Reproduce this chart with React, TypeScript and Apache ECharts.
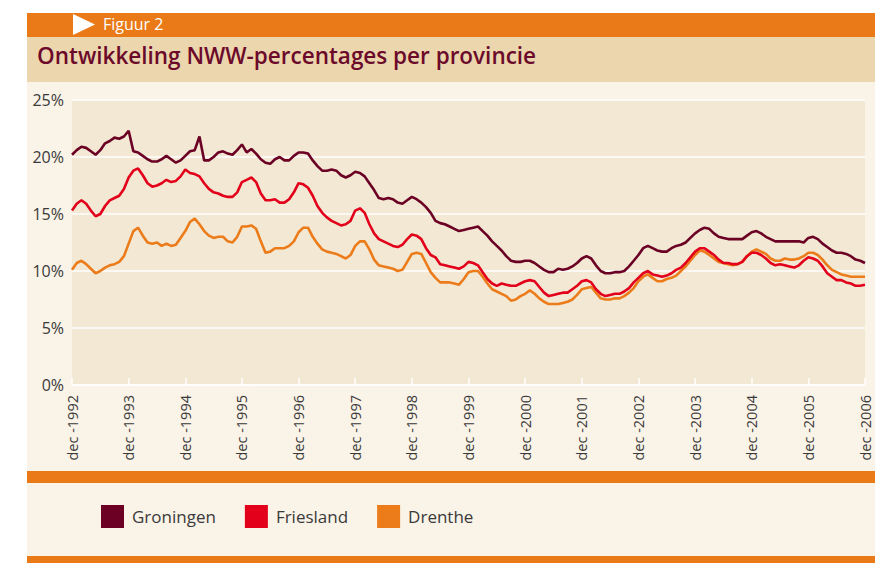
import React, { useEffect, useRef } from "react";
import * as echarts from "echarts";

const monthNames = ["jan", "feb", "mrt", "apr", "mei", "jun", "jul", "aug", "sep", "okt", "nov", "dec"];
const startYear = 1992;
const monthCount = 169; // dec-1992 .. dec-2006

const groningen = [
  20.2, 20.6, 20.9, 20.8, 20.5, 20.2, 20.6, 21.2, 21.4, 21.7, 21.6, 21.8, 22.3, 20.5, 20.4, 20.1, 19.8, 19.6, 19.6, 19.8, 20.1, 19.8, 19.5, 19.7, 20.1, 20.5, 20.6, 21.8, 19.7, 19.7, 20.0, 20.4, 20.5, 20.3, 20.2, 20.6, 21.1, 20.4, 20.7, 20.3, 19.8, 19.5,
  19.4, 19.8, 20.0, 19.7, 19.7, 20.1, 20.4, 20.4, 20.3, 19.7, 19.2, 18.8, 18.8, 18.9, 18.8, 18.4, 18.2, 18.4, 18.7, 18.6, 18.3, 17.7, 17.1, 16.4, 16.3, 16.4, 16.3, 16.0, 15.9, 16.2, 16.5, 16.3, 16.0, 15.6, 15.1, 14.4, 14.2, 14.1, 13.9, 13.7, 13.5, 13.6, 13.7,
  13.8, 13.9, 13.5, 13.1, 12.6, 12.2, 11.8, 11.3, 10.9, 10.8, 10.8, 10.9, 10.9, 10.7, 10.4, 10.1, 9.9, 9.9, 10.2, 10.1, 10.2, 10.4, 10.7, 11.1, 11.3, 11.1, 10.5, 10.0, 9.8, 9.8, 9.9, 9.9, 10.0, 10.4, 10.9, 11.4, 12.0, 12.2, 12.0, 11.8, 11.7, 11.7,
  12.0, 12.2, 12.3, 12.5, 12.9, 13.3, 13.6, 13.8, 13.7, 13.3, 13.0, 12.9, 12.8, 12.8, 12.8, 12.8, 13.1, 13.4, 13.5, 13.3, 13.0, 12.8, 12.6, 12.6, 12.6, 12.6, 12.6, 12.6, 12.5, 12.9, 13.0, 12.8, 12.4, 12.1, 11.8, 11.6, 11.6, 11.5, 11.3, 11.0, 10.9, 10.7,
];

const friesland = [
  15.3, 15.9, 16.2, 15.9, 15.3, 14.8, 15.0, 15.7, 16.2, 16.4, 16.6, 17.2, 18.2, 18.8, 19.0, 18.4, 17.7, 17.4, 17.5, 17.7, 18.0, 17.8, 17.9, 18.3, 18.9, 18.6, 18.5, 18.3, 17.7, 17.2, 16.9, 16.8, 16.6, 16.5, 16.5, 16.9, 17.8, 18.0, 18.2, 17.8, 16.8, 16.2,
  16.2, 16.3, 16.0, 16.0, 16.3, 16.9, 17.7, 17.6, 17.3, 16.6, 15.7, 15.1, 14.7, 14.4, 14.2, 14.0, 14.1, 14.4, 15.3, 15.5, 15.1, 14.1, 13.3, 12.8, 12.6, 12.4, 12.2, 12.1, 12.3, 12.8, 13.2, 13.1, 12.8, 12.0, 11.4, 11.2, 10.6, 10.5, 10.4, 10.3, 10.2, 10.4, 10.8,
  10.7, 10.5, 9.9, 9.3, 8.9, 8.7, 8.9, 8.8, 8.7, 8.7, 8.9, 9.1, 9.2, 9.1, 8.6, 8.1, 7.8, 7.9, 8.0, 8.1, 8.1, 8.4, 8.7, 9.1, 9.2, 9.0, 8.4, 8.0, 7.8, 7.9, 8.0, 8.0, 8.2, 8.5, 9.0, 9.4, 9.8, 10.0, 9.7, 9.6, 9.5, 9.6,
  9.8, 10.1, 10.3, 10.7, 11.2, 11.7, 12.0, 12.0, 11.7, 11.4, 11.0, 10.7, 10.7, 10.6, 10.6, 10.8, 11.3, 11.6, 11.6, 11.4, 11.1, 10.7, 10.5, 10.6, 10.5, 10.4, 10.3, 10.5, 10.9, 11.2, 11.1, 10.9, 10.4, 9.8, 9.5, 9.2, 9.2, 9.0, 8.9, 8.7, 8.7, 8.8,
];

const drenthe = [
  10.1, 10.7, 10.9, 10.6, 10.2, 9.8, 10.0, 10.3, 10.5, 10.6, 10.8, 11.3, 12.4, 13.5, 13.8, 13.1, 12.5, 12.4, 12.5, 12.2, 12.4, 12.2, 12.3, 12.9, 13.5, 14.3, 14.6, 14.1, 13.5, 13.1, 12.9, 13.0, 13.0, 12.6, 12.5, 13.0, 13.9, 13.9, 14.0, 13.7, 12.6, 11.6,
  11.7, 12.0, 12.0, 12.0, 12.2, 12.6, 13.4, 13.8, 13.8, 13.0, 12.4, 11.9, 11.7, 11.6, 11.5, 11.3, 11.1, 11.4, 12.2, 12.6, 12.6, 11.9, 11.0, 10.5, 10.4, 10.3, 10.2, 10.0, 10.1, 10.8, 11.5, 11.6, 11.5, 10.7, 9.9, 9.4, 9.0, 9.0, 9.0, 8.9, 8.8, 9.3, 9.9,
  10.0, 10.0, 9.5, 8.9, 8.4, 8.2, 8.0, 7.8, 7.4, 7.5, 7.8, 8.0, 8.3, 8.0, 7.6, 7.3, 7.1, 7.1, 7.1, 7.2, 7.3, 7.5, 7.9, 8.4, 8.5, 8.6, 8.1, 7.6, 7.5, 7.5, 7.6, 7.6, 7.8, 8.1, 8.5, 9.1, 9.5, 9.7, 9.4, 9.1, 9.1, 9.3,
  9.4, 9.6, 10.0, 10.4, 10.9, 11.4, 11.8, 11.7, 11.4, 11.1, 10.8, 10.7, 10.6, 10.5, 10.6, 10.8, 11.3, 11.7, 11.9, 11.7, 11.5, 11.1, 10.9, 10.9, 11.1, 11.0, 11.0, 11.1, 11.3, 11.6, 11.6, 11.4, 11.0, 10.5, 10.1, 9.9, 9.7, 9.6, 9.5, 9.5, 9.5, 9.5,
];

const seriesNames = ["Groningen", "Friesland", "Drenthe"];
const seriesColors = ["#6B0024", "#E2001A", "#EC7B1A"];
const yTicks = [0, 5, 10, 15, 20, 25];

const categories: string[] = [];
for (let i = 0; i < monthCount; i++) {
  const k = 11 + i;
  categories.push(`${monthNames[k % 12]} -${startYear + Math.floor(k / 12)}`);
}

const FONT = "'Open Sans', 'Noto Sans', sans-serif";
const ORANGE = "#E97A17";
const CREAM = "#FAF3E8";

export default function App() {
  const ref = useRef<HTMLDivElement>(null);
  useEffect(() => {
    if (!ref.current) return;
    const chart = echarts.init(ref.current, undefined, { renderer: "svg" });
    const isYearTick = (idx: number) => idx % 12 === 0;
    const allData = [groningen, friesland, drenthe];
    chart.setOption({
      animation: false,
      backgroundColor: "#ffffff",
      textStyle: { fontFamily: FONT },
      graphic: [
        { type: "rect", z: -10, shape: { x: 27, y: 13, width: 848, height: 24 }, style: { fill: ORANGE }, silent: true },
        { type: "rect", z: -10, shape: { x: 27, y: 37, width: 848, height: 45 }, style: { fill: "#EBD6AD" }, silent: true },
        { type: "rect", z: -10, shape: { x: 27, y: 82, width: 848, height: 389 }, style: { fill: CREAM }, silent: true },
        { type: "rect", z: -10, shape: { x: 27, y: 471, width: 848, height: 12 }, style: { fill: ORANGE }, silent: true },
        { type: "rect", z: -10, shape: { x: 27, y: 483, width: 848, height: 73 }, style: { fill: CREAM }, silent: true },
        { type: "rect", z: -10, shape: { x: 27, y: 556, width: 848, height: 7 }, style: { fill: ORANGE }, silent: true },
        { type: "polygon", z: -9, shape: { points: [[73, 14], [73, 35], [95, 24.5]] }, style: { fill: "#ffffff" }, silent: true },
        {
          type: "text", z: -9, x: 103, y: 24,
          style: { text: "Figuur 2", fill: "#ffffff", fontSize: 16, fontFamily: FONT, verticalAlign: "middle", align: "left" },
          silent: true,
        },
      ],
      title: {
        text: "Ontwikkeling NWW-percentages per provincie",
        left: 37,
        top: 44,
        padding: 0,
        textStyle: { color: "#6B0A2A", fontSize: 22.5, fontWeight: 600, fontFamily: FONT },
      },
      legend: {
        left: 101,
        top: 505,
        padding: 0,
        itemWidth: 23,
        itemHeight: 23,
        itemGap: 29,
        icon: "rect",
        data: seriesNames,
        textStyle: { fontSize: 17, color: "#3a3a3a", fontFamily: FONT, padding: [0, 0, 0, 3] },
      },
      grid: {
        left: 72,
        right: 10,
        top: 100,
        bottom: 178,
        show: true,
        backgroundColor: "#F2E8D3",
        borderWidth: 0,
      },
      xAxis: {
        type: "category",
        data: categories,
        boundaryGap: false,
        axisLine: { show: true, lineStyle: { color: "#ffffff", width: 1.5 } },
        axisTick: { show: true, inside: true, length: 7, interval: (idx: number) => isYearTick(idx), lineStyle: { color: "#ffffff", width: 1.5 } },
        axisLabel: {
          interval: (idx: number) => isYearTick(idx),
          rotate: 90,
          margin: 10,
          fontSize: 14.5,
          color: "#3a3a3a",
          fontFamily: FONT,
        },
        splitLine: { show: false },
      },
      yAxis: {
        type: "value",
        min: yTicks[0],
        max: yTicks[yTicks.length - 1],
        interval: 5,
        axisLine: { show: false },
        axisTick: { show: false },
        axisLabel: { formatter: "{value}%", fontSize: 16, color: "#3a3a3a", margin: 8, fontFamily: FONT },
        splitLine: { show: true, lineStyle: { color: "#ffffff", width: 1.5 } },
      },
      series: seriesNames.map((name, i) => ({
        name,
        type: "line",
        data: allData[i],
        showSymbol: false,
        symbol: "none",
        color: seriesColors[i],
        lineStyle: { color: seriesColors[i], width: 2.6 },
        z: 3 + (i === 1 ? 1 : 0),
      })),
    });
    return () => chart.dispose();
  }, []);
  return <div ref={ref} style={{ position: "fixed", left: 0, top: 0, width: 875, height: 563 }} />;
}
